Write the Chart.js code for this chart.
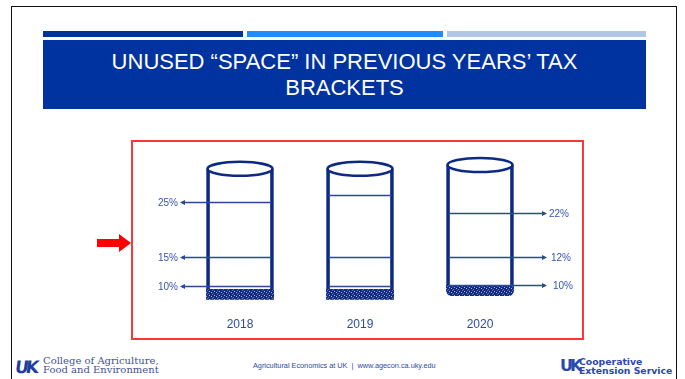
<!DOCTYPE html>
<html>
<head>
<meta charset="utf-8">
<script src="https://cdn.jsdelivr.net/npm/chart.js@4.4.1/dist/chart.umd.min.js"></script>
<style>
  html, body { margin: 0; padding: 0; background: #fff; }
  #slide { position: relative; width: 685px; height: 379px; overflow: hidden; font-family: "Liberation Sans", Arial, sans-serif; }
  #frame { position: absolute; left: 11px; top: 6px; width: 666px; height: 400px; border: 1.5px solid #111; box-sizing: border-box; }
  .strip { position: absolute; top: 31px; height: 6px; }
  #title { position: absolute; left: 43px; top: 40px; width: 603px; height: 69px; background: #0033a0; color: #fff;
           font-size: 22px; line-height: 26px; text-align: center; padding-top: 9px; box-sizing: border-box; }
  #box { position: absolute; left: 131px; top: 140px; width: 453px; height: 200px; border: 2px solid #ff3636; box-sizing: border-box; }
  #box canvas { position: absolute; left: 0; top: 0; }
  #pointer { position: absolute; left: 97px; top: 234px; }
  #college { position: absolute; left: 15px; top: 356px; }
  #college .uk { position: absolute; left: 0; top: 1px; font: bold 17px "DejaVu Sans", sans-serif; color: #1f3f9a; letter-spacing: -3px; transform: skewX(-8deg); }
  #college .name { position: absolute; left: 28px; top: 0; font: 10px/9px "DejaVu Serif", "Liberation Serif", serif; color: #42528f; white-space: nowrap; }
  #footnote { position: absolute; left: 253px; top: 361px; font-size: 7.3px; color: #2b4aa0; white-space: nowrap; }
  #extension { position: absolute; left: 560px; top: 355px; }
  #extension .uk { position: absolute; left: 0; top: 1px; font: bold 16px "DejaVu Sans", sans-serif; color: #2b48b0; letter-spacing: -3px; }
  #extension .name { position: absolute; left: 19px; top: 2px; font: bold 9.3px/9px "DejaVu Sans", sans-serif; color: #2b48b0; white-space: nowrap; letter-spacing: 0; }
</style>
</head>
<body>
<div id="slide">
  <div id="frame"></div>
  <div class="strip" style="left:43px;width:200px;background:#003399"></div>
  <div class="strip" style="left:247px;width:196px;background:#1e8cff"></div>
  <div class="strip" style="left:447px;width:199px;background:#b0c8e6"></div>
  <div id="title">UNUSED “SPACE” IN PREVIOUS YEARS’ TAX<br>BRACKETS</div>

  <svg id="pointer" width="36" height="18"><polygon points="0,5 22,5 22,0 34,9 22,18 22,13 0,13" fill="#ff0000"/></svg>

  <div id="box"><canvas id="chart" width="449" height="201"></canvas></div>

  <div id="college"><span class="uk">UK</span><span class="name">College of Agriculture,<br>Food and Environment</span></div>
  <div id="footnote">Agricultural Economics at UK&nbsp; |&nbsp; www.agecon.ca.uky.edu</div>
  <div id="extension"><span class="uk">UK</span><span class="name">Cooperative<br>Extension Service</span></div>
</div>

<script>
// income "height" of each year's cylinder, arbitrary units from the floor
const years = ["2018", "2019", "2020"];
const cylinderBase = [-3, -3, 3];
const cylinderTop = [98.5, 98.5, 101.5];
// part of the bottom bracket already filled (shaded)
const filledIncome = [[-3, 5], [-3, 5], [0, 8]];
// bracket ceilings and their rates, lowest first
const bracketRates = [
  ["10%", "15%", "25%"],
  ["10%", "15%", "25%"],
  ["10%", "12%", "22%"],
];
const bracketTops = [
  [7.8, 30, 72.5],
  [7.8, 30, 78.5],
  [8.5, 30, 64.5],
];
// which side the rate callouts sit on
const calloutSide = ["left", null, "right"];

const navy = "#0c2a82";
const lineBlue = "#2a4896";
const textBlue = "#3656b0";

function speckle() {
  const c = document.createElement("canvas");
  c.width = 5;
  c.height = 4;
  const g = c.getContext("2d");
  g.fillStyle = "#142b7e";
  g.fillRect(0, 0, 5, 4);
  g.fillStyle = "#a3b3de";
  g.fillRect(1, 1, 1, 1);
  g.fillRect(3, 2, 1, 1);
  g.fillStyle = "#5a72bc";
  g.fillRect(0, 3, 1, 1);
  g.fillRect(4, 0, 1, 1);
  return g.createPattern(c, "repeat");
}

function arrowHead(ctx, x, y, dir) {
  ctx.beginPath();
  ctx.moveTo(x, y);
  ctx.lineTo(x - dir * 5, y - 2.5);
  ctx.lineTo(x - dir * 5, y + 2.5);
  ctx.closePath();
  ctx.fill();
}

const cylinderParts = {
  id: "cylinderParts",
  afterDatasetsDraw(chart) {
    const { ctx, scales: { x, y } } = chart;
    const half = 33.5;
    ctx.save();
    years.forEach((year, i) => {
      const cx = x.getPixelForValue(i);
      // bracket ceilings
      bracketTops[i].forEach((level, k) => {
        const py = Math.round(y.getPixelForValue(level)) + 0.5;
        let x0 = cx - half + 2;
        let x1 = cx + half - 2;
        if (calloutSide[i] === "left") x0 = cx - 58;
        if (calloutSide[i] === "right") x1 = cx + 65;
        ctx.strokeStyle = lineBlue;
        ctx.fillStyle = lineBlue;
        ctx.lineWidth = 1.6;
        ctx.beginPath();
        ctx.moveTo(x0, py);
        ctx.lineTo(x1, py);
        ctx.stroke();
        if (!calloutSide[i]) return;
        ctx.font = '10px "Liberation Sans", Arial, sans-serif';
        ctx.textBaseline = "middle";
        if (calloutSide[i] === "left") {
          ctx.fillStyle = lineBlue;
          arrowHead(ctx, x0 - 2, py, -1);
          ctx.fillStyle = textBlue;
          ctx.textAlign = "right";
          ctx.fillText(bracketRates[i][k], x0 - 4, py + 1);
        } else {
          ctx.fillStyle = lineBlue;
          arrowHead(ctx, x1 + 2, py, 1);
          ctx.fillStyle = textBlue;
          ctx.textAlign = "left";
          ctx.fillText(bracketRates[i][k], x1 + 4 + (k === 0 ? 4 : k === 1 ? 2 : 0), py + 1);
        }
      });
      // open top of the cylinder
      const ty = y.getPixelForValue(cylinderTop[i]);
      ctx.beginPath();
      ctx.ellipse(cx, ty, half - 1, 7, 0, 0, Math.PI * 2);
      ctx.fillStyle = "#fff";
      ctx.fill();
      ctx.lineWidth = 2.6;
      ctx.strokeStyle = navy;
      ctx.stroke();
    });
    ctx.restore();
  },
};

new Chart(document.getElementById("chart"), {
  type: "bar",
  data: {
    labels: years,
    datasets: [
      {
        label: "Filled",
        data: filledIncome,
        backgroundColor: speckle(),
        borderWidth: 0,
        borderSkipped: false,
        clip: false,
        borderRadius: (c) => (c.dataIndex === 2
          ? { topLeft: 0, topRight: 0, bottomLeft: 14, bottomRight: 14 }
          : 0),
      },
      {
        label: "Cylinder",
        data: years.map((_, i) => [cylinderBase[i], cylinderTop[i]]),
        backgroundColor: "rgba(0,0,0,0)",
        borderColor: navy,
        borderWidth: { left: 3, right: 3, top: 0, bottom: 0 },
        borderSkipped: false,
        clip: false,
      },
    ],
  },
  options: {
    responsive: false,
    animation: false,
    devicePixelRatio: 1,
    grouped: false,
    barThickness: 67,
    layout: { padding: { left: 47, right: 42, top: 3, bottom: 0 } },
    plugins: { legend: { display: false }, tooltip: { enabled: false } },
    scales: {
      x: {
        grid: { display: false, drawTicks: false },
        border: { display: false },
        ticks: {
          padding: 11,
          color: "#2c4ca4",
          font: { family: '"Liberation Sans", Arial, sans-serif', size: 12 },
        },
      },
      y: { display: false, min: -8.5, max: 117 },
    },
  },
  plugins: [cylinderParts],
});
</script>
</body>
</html>
